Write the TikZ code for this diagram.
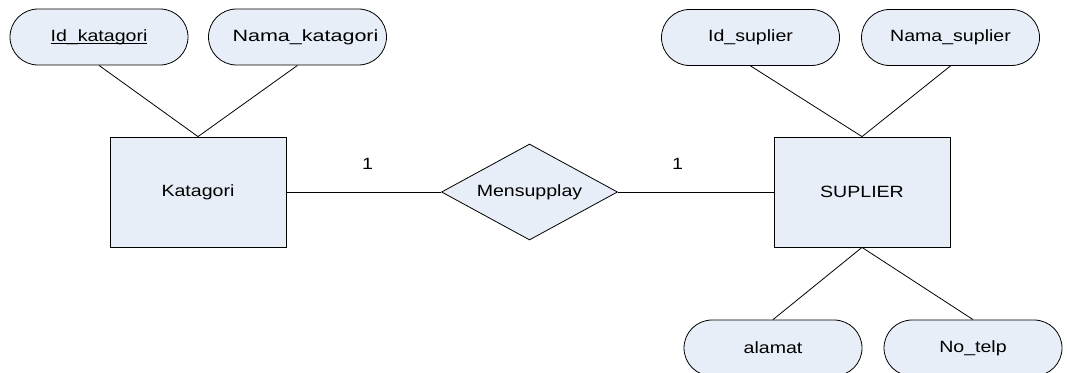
\documentclass[tikz,border=0pt]{standalone}
\usepackage{fontspec}
\setmainfont{Liberation Sans}[FakeStretch=1.2]
\usetikzlibrary{shapes.geometric}
\definecolor{erfill}{HTML}{E8EEF7}
\newcommand{\keyattr}[1]{\underline{\smash{#1}\vphantom{I}}}
\begin{document}
\begin{tikzpicture}[x=1pt,y=-1pt,
  font=\fontsize{16.3}{19}\selectfont,
  attr/.style={draw=black, fill=erfill, line width=0.8pt, rectangle,
    rounded corners=28pt, minimum width=178pt, minimum height=56pt,
    inner sep=0pt},
  entity/.style={draw=black, fill=erfill, line width=0.8pt, rectangle,
    minimum width=176pt, minimum height=110pt, inner sep=0pt},
  relation/.style={draw=black, fill=erfill, line width=0.8pt, diamond,
    aspect=1.83, minimum width=176pt, minimum height=96pt, inner sep=0pt},
  link/.style={draw=black, line width=0.8pt},
  card/.style={inner sep=0pt}]
  \useasboundingbox (0,0) rectangle (1067,372);
  \clip (0,0) rectangle (1067,372);

  % entities and relationship
  \node[entity] (kat) at (198,192) {Katagori};
  \node[entity] (sup) at (862,192) {SUPLIER};
  \node[relation] (rel) at (529.5,192) {Mensupplay};

  % attributes of Katagori
  \node[attr] (idk) at (99,37) {\keyattr{Id\_katagori}};
  \node[attr] (nmk) at (297.5,37) {\hspace*{16pt}\scalebox{1.1}[1]{Nama\_katagori}};

  % attributes of SUPLIER
  \node[attr] (ids) at (750.5,37.5) {Id\_suplier};
  \node[attr] (nms) at (950.5,37.5) {Nama\_suplier};
  \node[attr] (alm) at (773,348) {alamat};
  \node[attr] (tlp) at (973,348) {No\_telp};

  % connectors
  \draw[link] (idk.south) -- (kat.north);
  \draw[link] (nmk.south) -- (kat.north);
  \draw[link] (ids.south) -- (sup.north);
  \draw[link] (nms.south) -- (sup.north);
  \draw[link] (sup.south) -- (alm.north);
  \draw[link] (sup.south) -- (tlp.north);
  \draw[link] (kat.east) -- (rel.west);
  \draw[link] (rel.east) -- (sup.west);

  % cardinalities
  \node[card] (c1) at (367.5,164) {1};
  \node[card] (c2) at (677.5,164) {1};
\end{tikzpicture}
\end{document}
